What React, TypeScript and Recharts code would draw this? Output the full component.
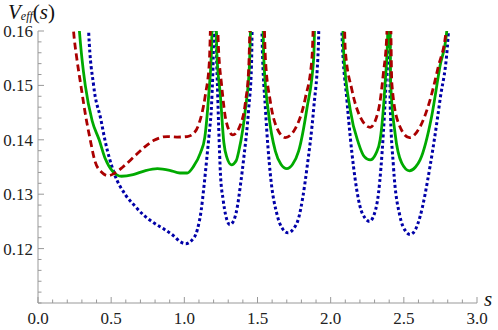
import { LineChart, Line, XAxis, YAxis } from 'recharts';

// s positions and V_eff values, per curve
const redS = [
  0.22, 0.243, 0.265, 0.293, 0.325, 0.357, 0.39, 0.437, 0.48, 0.52, 0.58, 0.657, 0.73, 0.793, 0.884, 0.95,
  1.02, 1.06, 1.098, 1.144, 1.171, 1.19,
  1.215, 1.235, 1.255, 1.285, 1.331, 1.384, 1.418, 1.44, 1.46,
  1.535, 1.554, 1.588, 1.634, 1.69, 1.759, 1.827, 1.872, 1.895,
  2.085, 2.1, 2.145, 2.2, 2.27, 2.327, 2.36, 2.384, 2.395,
  2.405, 2.418, 2.463, 2.538, 2.611, 2.679, 2.736, 2.788, 2.8,
];
const redV = [
  0.17, 0.16, 0.155, 0.15, 0.1445, 0.14, 0.136, 0.134, 0.1334, 0.1338, 0.135, 0.1369, 0.1387, 0.1399, 0.1406, 0.1405,
  0.1406, 0.1411, 0.1428, 0.1483, 0.1544, 0.17,
  0.17, 0.156, 0.15, 0.1435, 0.1409, 0.1428, 0.147, 0.1532, 0.17,
  0.17, 0.155, 0.147, 0.1421, 0.1404, 0.1421, 0.1477, 0.155, 0.17,
  0.17, 0.1565, 0.1492, 0.1443, 0.1423, 0.1455, 0.1522, 0.1596, 0.17,
  0.17, 0.1504, 0.1431, 0.1404, 0.1424, 0.1473, 0.1535, 0.1599, 0.17,
];

const greenS = [
  0.26, 0.283, 0.3, 0.323, 0.37, 0.418, 0.46, 0.51, 0.57, 0.65, 0.73, 0.816, 0.9, 0.97, 1.02, 1.06, 1.11,
  1.14, 1.166, 1.185, 1.2,
  1.212, 1.222, 1.246, 1.27, 1.29, 1.322, 1.355, 1.372, 1.4, 1.418, 1.445, 1.465,
  1.53, 1.543, 1.577, 1.622, 1.66, 1.7, 1.74, 1.781, 1.838, 1.884, 1.9,
  2.075, 2.088, 2.134, 2.19, 2.23, 2.27, 2.31, 2.338, 2.372, 2.39, 2.396,
  2.402, 2.41, 2.44, 2.486, 2.538, 2.58, 2.611, 2.69, 2.747, 2.793, 2.805,
];
const greenV = [
  0.17, 0.16, 0.155, 0.15, 0.1435, 0.14, 0.1365, 0.1342, 0.1333, 0.1336, 0.1343, 0.1347, 0.1344, 0.1339, 0.1339, 0.135, 0.1376,
  0.1405, 0.148, 0.156, 0.17,
  0.17, 0.156, 0.1483, 0.1395, 0.1368, 0.1354, 0.1362, 0.1379, 0.142, 0.1458, 0.1538, 0.17,
  0.17, 0.155, 0.1446, 0.1379, 0.1355, 0.1347, 0.1355, 0.1379, 0.1458, 0.155, 0.17,
  0.17, 0.1565, 0.1455, 0.1394, 0.1369, 0.1363, 0.1375, 0.14, 0.1504, 0.1596, 0.17,
  0.17, 0.1504, 0.1412, 0.1357, 0.1343, 0.135, 0.1363, 0.1443, 0.1535, 0.1599, 0.17,
];

const blueS = [
  0.335, 0.346, 0.38, 0.43, 0.457, 0.52, 0.6, 0.656, 0.72, 0.793, 0.86, 0.929, 0.97, 1.01, 1.05, 1.089,
  1.115, 1.134, 1.155, 1.168, 1.189, 1.198, 1.205,
  1.212, 1.22, 1.228, 1.241, 1.247, 1.265, 1.282, 1.311, 1.335, 1.361, 1.385, 1.406, 1.44, 1.459, 1.47,
  1.525, 1.532, 1.554, 1.588, 1.634, 1.67, 1.709, 1.745, 1.781, 1.81, 1.838, 1.884, 1.917, 1.925,
  2.07, 2.077, 2.111, 2.156, 2.2, 2.235, 2.265, 2.3, 2.327, 2.36, 2.384, 2.395, 2.4,
  2.403, 2.406, 2.429, 2.474, 2.51, 2.543, 2.575, 2.611, 2.679, 2.747, 2.804, 2.815,
];
const blueV = [
  0.17, 0.16, 0.15, 0.1437, 0.14, 0.1339, 0.1298, 0.128, 0.1262, 0.1247, 0.1236, 0.1223, 0.1213, 0.1209, 0.1215, 0.1235,
  0.127, 0.1314, 0.137, 0.1406, 0.1483, 0.156, 0.17,
  0.17, 0.156, 0.1483, 0.1375, 0.1336, 0.129, 0.1262, 0.1244, 0.125, 0.1275, 0.132, 0.1366, 0.1458, 0.1538, 0.17,
  0.17, 0.158, 0.1458, 0.1336, 0.1262, 0.1237, 0.1229, 0.1236, 0.1256, 0.1295, 0.1348, 0.1458, 0.158, 0.17,
  0.17, 0.1596, 0.1473, 0.1351, 0.1278, 0.1256, 0.125, 0.1265, 0.1302, 0.1412, 0.1535, 0.1596, 0.17,
  0.17, 0.1473, 0.1351, 0.1259, 0.1233, 0.1226, 0.1233, 0.1259, 0.1351, 0.1473, 0.1596, 0.17,
];

const xTicks = [
  0, 0.1, 0.2, 0.3, 0.4, 0.5, 0.6, 0.7, 0.8, 0.9, 1, 1.1, 1.2, 1.3, 1.4, 1.5,
  1.6, 1.7, 1.8, 1.9, 2, 2.1, 2.2, 2.3, 2.4, 2.5, 2.6, 2.7, 2.8, 2.9, 3,
];
const xMajor = [0, 0.5, 1, 1.5, 2, 2.5, 3];
const yTicks = [
  0.11, 0.112, 0.114, 0.116, 0.118, 0.12, 0.122, 0.124, 0.126, 0.128, 0.13, 0.132, 0.134,
  0.136, 0.138, 0.14, 0.142, 0.144, 0.146, 0.148, 0.15, 0.152, 0.154, 0.156, 0.158, 0.16,
];
const yMajor = [0.12, 0.13, 0.14, 0.15, 0.16];

const toPoints = (s: number[], v: number[]) => s.map((x, i) => ({ s: x, v: v[i] }));
const redData = toPoints(redS, redV);
const greenData = toPoints(greenS, greenV);
const blueData = toPoints(blueS, blueV);

const AXIS = '#999';
const FONT = "'Liberation Serif', 'Times New Roman', serif";

function XTick(props: any) {
  const { x, y, payload } = props;
  const major = xMajor.some((m) => Math.abs(m - payload.value) < 1e-9);
  return (
    <g>
      <line x1={x} x2={x} y1={y} y2={y - (major ? 6 : 3.5)} stroke={AXIS} strokeWidth={1} />
      {major && (
        <text x={x} y={y + 21} textAnchor="middle" fontSize={17} fontFamily={FONT} fill="#222">
          {payload.value.toFixed(1)}
        </text>
      )}
    </g>
  );
}

function YTick(props: any) {
  const { x, y, payload } = props;
  const major = yMajor.some((m) => Math.abs(m - payload.value) < 1e-9);
  return (
    <g>
      <line x1={x} x2={x + (major ? 6 : 3.5)} y1={y} y2={y} stroke={AXIS} strokeWidth={1} />
      {major && (
        <text x={x - 5} y={y + 6} textAnchor="end" fontSize={17} fontFamily={FONT} fill="#222">
          {payload.value.toFixed(2)}
        </text>
      )}
    </g>
  );
}

export default function App() {
  return (
    <div style={{ position: 'absolute', left: 0, top: 0, width: 498, height: 330, background: '#fff' }}>
      <LineChart width={498} height={330} margin={{ top: 31, right: 21, bottom: 0, left: 0 }}>
        <XAxis
          type="number"
          dataKey="s"
          domain={[0, 3]}
          ticks={xTicks}
          interval={0}
          tick={<XTick />}
          tickLine={false}
          tickSize={0}
          tickMargin={0}
          height={27}
          axisLine={{ stroke: AXIS }}
        />
        <YAxis
          type="number"
          domain={[0.11, 0.16]}
          allowDataOverflow
          ticks={yTicks}
          interval={0}
          tick={<YTick />}
          tickLine={false}
          tickSize={0}
          tickMargin={0}
          width={38}
          axisLine={{ stroke: AXIS }}
        />
        <Line
          data={blueData}
          dataKey="v"
          type="monotone"
          stroke="#0000a8"
          strokeWidth={3}
          strokeDasharray="3 2.6"
          dot={false}
          activeDot={false}
          isAnimationActive={false}
        />
        <Line
          data={greenData}
          dataKey="v"
          type="monotone"
          stroke="#00aa00"
          strokeWidth={2.8}
          dot={false}
          activeDot={false}
          isAnimationActive={false}
        />
        <Line
          data={redData}
          dataKey="v"
          type="monotone"
          stroke="#aa0000"
          strokeWidth={2.8}
          strokeDasharray="7 4"
          dot={false}
          activeDot={false}
          isAnimationActive={false}
        />
      </LineChart>
      <svg width={90} height={28} style={{ position: 'absolute', left: 0, top: 0, overflow: 'visible' }}>
        <text x={8} y={18.5} fontFamily={FONT} fill="#111">
          <tspan fontSize={21} fontStyle="italic">V</tspan>
          <tspan fontSize={12} fontStyle="italic" dy={1}>eff</tspan>
          <tspan fontSize={21} dy={-1}>(</tspan>
          <tspan fontSize={21} fontStyle="italic">s</tspan>
          <tspan fontSize={21}>)</tspan>
        </text>
      </svg>
      <svg width={30} height={30} style={{ position: 'absolute', left: 476, top: 285, overflow: 'visible' }}>
        <text x={8} y={21} fontFamily={FONT} fontSize={21} fontStyle="italic" fill="#111">
          s
        </text>
      </svg>
    </div>
  );
}
